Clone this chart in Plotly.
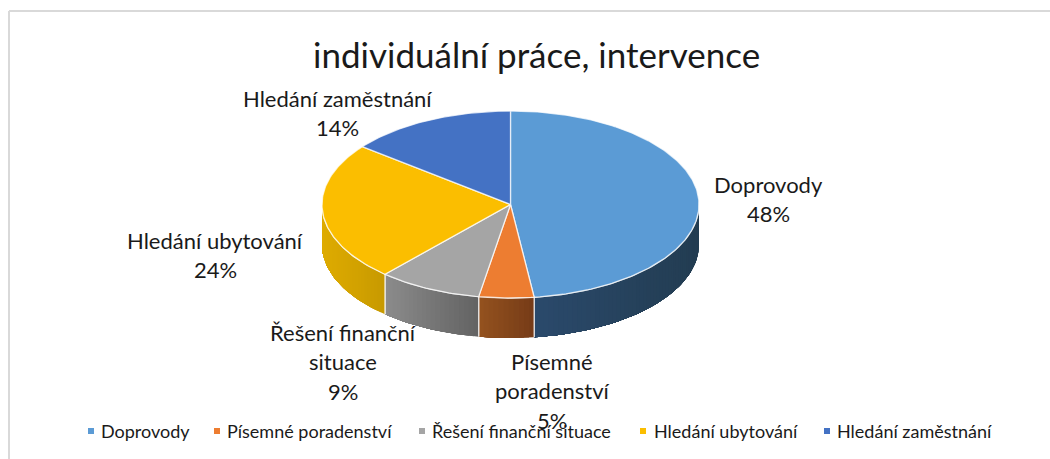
import numpy as np
import plotly.graph_objects as go

# --- data ---
TITLE = "individuální práce, intervence"
categories = ["Doprovody", "Písemné poradenství", "Řešení finanční situace",
              "Hledání ubytování", "Hledání zaměstnání"]
values = [48, 4.7, 8.9, 24, 14.4]
label_lines = [["Doprovody"], ["Písemné", "poradenství"], ["Řešení finanční", "situace"],
               ["Hledání ubytování"], ["Hledání zaměstnání"]]

# --- styles ---
top_colors = ["#5B9BD5", "#ED7D31", "#A5A5A5", "#FBBE00", "#4472C4"]
side_left = ["#2B4A6C", "#95521F", "#8C8C8C", "#DFAC00", "#2B4A80"]
side_right = ["#233D52", "#763C18", "#636363", "#C89A00", "#2B4A80"]
FONT = "Lato, Carlito, Calibri, sans-serif"
INK = "#1a1a1a"
EDGE = "rgba(255,255,255,0.75)"

# pie geometry in page pixels (the axes below run in pixels)
CX, CY, RX, RY, DEPTH = 510.5, 204.5, 188.5, 93.5, 40
label_pos = [(768, 184), (552, 361), (343, 332), (215, 240), (337, 98)]
LINE_STEP = 29.5
legend_key_x = [91, 217, 422, 643, 827]
legend_text_x = [99, 225, 430, 652, 835]
LEGEND_Y = 431


def px(theta):
    return CX + RX * np.sin(theta), CY - RY * np.cos(theta)


def hex_rgb(h):
    return np.array([int(h[i:i + 2], 16) for i in (1, 3, 5)], dtype=float)


fig = go.Figure()
total = sum(values)
edges = np.radians(np.cumsum([0] + values) / total * 360)

# side wall: only the front half (90..270 degrees) is visible
for i, cat in enumerate(categories):
    a0, a1 = max(edges[i], np.pi / 2), min(edges[i + 1], 3 * np.pi / 2)
    if a1 <= a0:
        continue
    n = max(2, int((a1 - a0) / np.radians(1.5)))
    cuts = np.linspace(a0, a1, n + 1)
    xa, xb = px(a0)[0], px(a1)[0]
    for s in range(n):
        # each strip runs to the end of the slice and the next one paints over it: no seams
        t = np.linspace(cuts[s], a1, max(4, n - s + 2))
        x, y = px(t)
        f = (px((cuts[s] + cuts[s + 1]) / 2)[0] - min(xa, xb)) / abs(xa - xb)
        c = hex_rgb(side_left[i]) * (1 - f) + hex_rgb(side_right[i]) * f
        col = "rgb(%d,%d,%d)" % tuple(c)
        fig.add_trace(go.Scatter(
            x=np.r_[x, x[::-1]], y=np.r_[y, y[::-1] + DEPTH], mode="lines",
            fill="toself", fillcolor=col, line=dict(width=0),
            legendgroup=cat, showlegend=False, hoverinfo="skip"))
    # light seams on the wall
    for a in (a0, a1):
        if np.pi / 2 < a < 3 * np.pi / 2:
            x, y = px(a)
            fig.add_trace(go.Scatter(x=[x, x], y=[y, y + DEPTH], mode="lines",
                                     line=dict(color=EDGE, width=1.3),
                                     legendgroup=cat, showlegend=False, hoverinfo="skip"))
    t = np.linspace(a0, a1, 60)
    x, y = px(t)
    fig.add_trace(go.Scatter(x=x, y=y, mode="lines", line=dict(color=EDGE, width=1.3),
                             legendgroup=cat, showlegend=False, hoverinfo="skip"))

# top face
for i, cat in enumerate(categories):
    t = np.linspace(edges[i], edges[i + 1], max(8, int(values[i] * 4)))
    x, y = px(t)
    fig.add_trace(go.Scatter(
        x=np.r_[CX, x, CX], y=np.r_[CY, y, CY], mode="lines", fill="toself",
        fillcolor=top_colors[i], line=dict(color=EDGE, width=1.3),
        name=cat, legendgroup=cat, showlegend=False,
        hovertemplate=f"{cat}: {round(values[i])}%<extra></extra>"))

# legend row: square key plus its text, placed on the pixel axes
for i, cat in enumerate(categories):
    fig.add_trace(go.Scatter(x=[legend_key_x[i]], y=[LEGEND_Y], mode="markers", name=cat,
                             marker=dict(symbol="square", size=6, color=top_colors[i]),
                             showlegend=False, hoverinfo="skip"))

annotations = [dict(text=TITLE, x=536, y=54, xref="x", yref="y", showarrow=False,
                    font=dict(family=FONT, size=35, color=INK))]
for i, lines in enumerate(label_lines):
    lx, ly = label_pos[i]
    for k, txt in enumerate(lines + [f"{round(values[i])}%"]):
        annotations.append(dict(text=txt, x=lx, y=ly + k * LINE_STEP, xref="x", yref="y",
                                showarrow=False, font=dict(family=FONT, size=22, color=INK)))
for i, cat in enumerate(categories):
    annotations.append(dict(text=cat, x=legend_text_x[i], y=LEGEND_Y, xref="x", yref="y",
                            xanchor="left", showarrow=False,
                            font=dict(family=FONT, size=18, color=INK)))

fig.update_layout(
    width=1050, height=459, margin=dict(l=0, r=0, t=0, b=0),
    paper_bgcolor="white", plot_bgcolor="white", showlegend=False,
    xaxis=dict(range=[0, 1050], visible=False, fixedrange=True),
    yaxis=dict(range=[459, 0], visible=False, fixedrange=True),
    annotations=annotations,
    shapes=[
        dict(type="line", xref="x", yref="y", x0=9, x1=9, y0=11, y1=459,
             line=dict(color="#d9d9d9", width=2)),
        dict(type="line", xref="x", yref="y", x0=9, x1=1050, y0=11, y1=11,
             line=dict(color="#d9d9d9", width=2)),
    ],
)

fig.write_html("out.html", config={"displayModeBar": False},
               post_script="document.body.style.margin='0';document.body.style.overflow='hidden';")
